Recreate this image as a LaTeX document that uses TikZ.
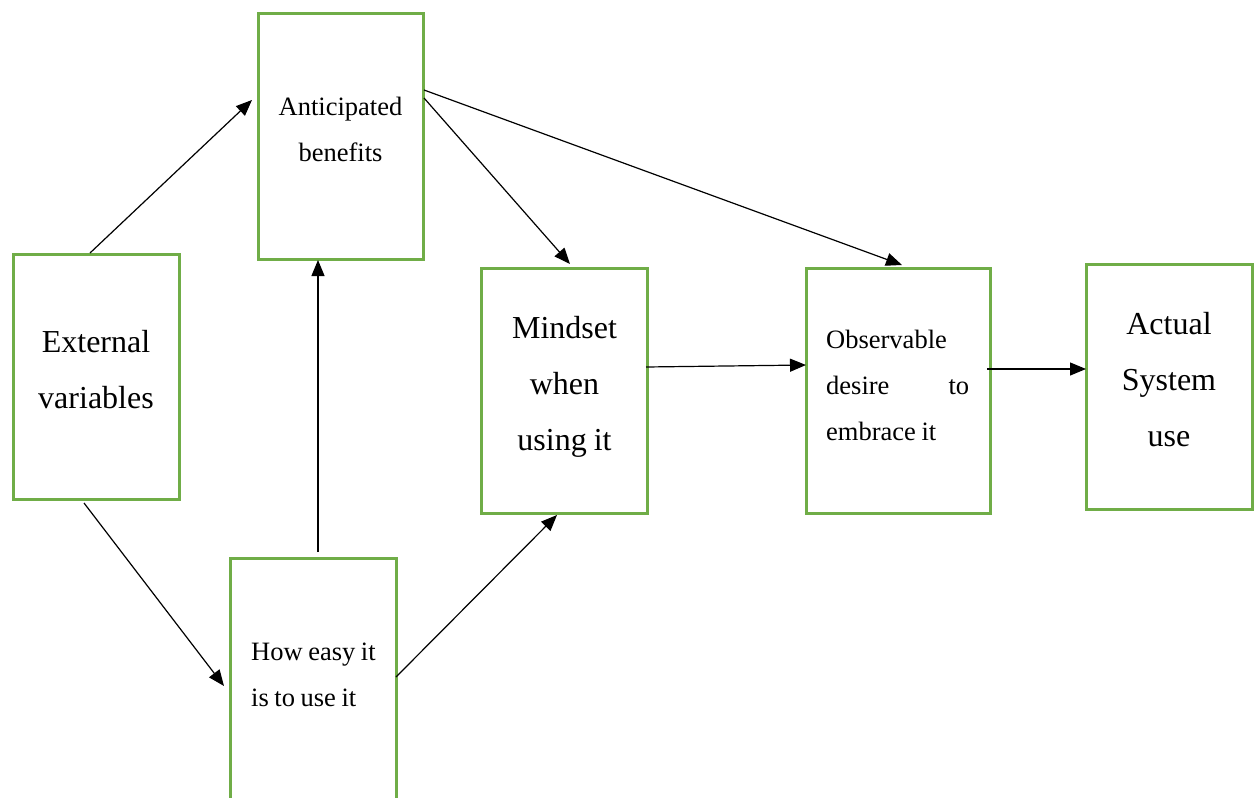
\documentclass[tikz,border=0pt]{standalone}
\usepackage{fontspec}
\setmainfont{Liberation Serif}
\usetikzlibrary{arrows.meta}
\definecolor{boxgreen}{HTML}{70AD47}
\tikzset{
  stage/.style={draw=boxgreen, line width=3pt, rectangle, outer sep=0pt,
    inner sep=0pt, minimum height=245pt},
  bigtext/.style={font=\fontsize{32}{56}\selectfont, anchor=base,
    inner sep=0pt, align=center,
    execute at begin node={\spaceskip=0.22em\relax}},
  smalltext/.style={font=\fontsize{26.5}{46}\selectfont, inner sep=0pt,
    execute at begin node={\spaceskip=0.21em\relax}},
  link/.style={line width=1.2pt, -{Triangle[length=16pt,width=13pt]}},
}
\begin{document}
\begin{tikzpicture}[x=1pt, y=-1pt]
\useasboundingbox (0,0) rectangle (1259,798);
\clip (0,0) rectangle (1259,798);

% stage boxes
\node[stage, minimum width=166pt] (ext)  at (96,376.5)   {};
\node[stage, minimum width=165pt, minimum height=246pt] (ant) at (340.5,136) {};
\node[stage, minimum width=166pt, minimum height=246pt] (easy) at (313,681) {};
\node[stage, minimum width=166pt] (mind) at (564,390.5)  {};
\node[stage, minimum width=184pt] (obs)  at (898,390.5)  {};
\node[stage, minimum width=166pt] (act)  at (1169,386.5) {};

% box captions
\node[bigtext, text width=160pt] (extT) at (96,352.5) {External\\variables};
\node[bigtext, text width=160pt] (mindT) at (564.5,338) {Mindset\\when\\using it};
\node[bigtext, text width=160pt] (actT) at (1169,334) {Actual\\System\\use};
\node[smalltext, anchor=base, text width=160pt, align=center] (antT) at (340.5,115) {Anticipated\\benefits};
\node[smalltext, anchor=base west, text width=143pt, align=left] (obsT) at (826,348)
  {Observable\\desire\hfill to\\embrace it};
\node[smalltext, anchor=base west, text width=140pt, align=left] (easyT) at (251,660)
  {How easy it\\is to use it};

% connectors
\draw[link] ([xshift=-6pt,yshift=1pt]ext.north) -- ([xshift=-6pt,yshift=36pt]ant.west);
\draw[link] ([xshift=-12pt,yshift=-4pt]ext.south) -- ([xshift=-6pt,yshift=-5pt]easy.west);
\draw[link] ([xshift=5pt,yshift=6pt]easy.north) -- ([xshift=-22.5pt,yshift=-1pt]ant.south);
\draw[link] ([yshift=4pt]easy.east) -- ([xshift=-7pt,yshift=-2pt]mind.south);
\draw[link] ([xshift=1pt,yshift=38pt]ant.east) -- ([xshift=6pt,yshift=4pt]mind.north);
\draw[link] ([xshift=1pt,yshift=46pt]ant.east) -- ([xshift=4pt,yshift=3pt]obs.north);
\draw[link] ([xshift=-1pt,yshift=23.5pt]mind.east) -- ([yshift=25.5pt]obs.west);
\draw[link] ([xshift=-3pt,yshift=21.5pt]obs.east) -- ([yshift=17.5pt]act.west);
\end{tikzpicture}
\end{document}
